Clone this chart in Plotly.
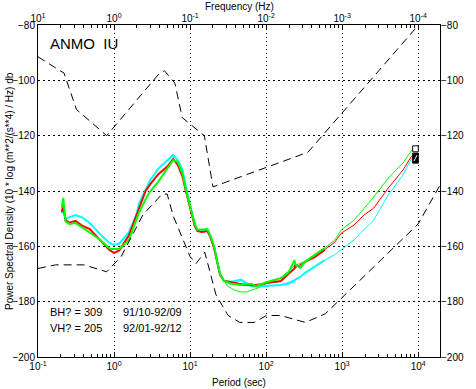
import plotly.graph_objects as go

# ---- data ----
# Peterson low / high noise models (period s, dB)
nlnm_period = [0.1, 0.17, 0.4, 0.8, 1.24, 2.4, 4.3, 5.0, 6.0, 10.0, 12.0, 15.6, 21.9, 31.6, 45.0, 70.0, 101.0, 154.0, 328.0, 600.0, 10000.0, 100000.0]
nlnm_db = [-168.0, -166.7, -166.7, -169.2, -163.7, -148.6, -141.1, -141.1, -149.0, -163.7, -166.2, -162.1, -177.5, -185.0, -187.5, -187.5, -185.0, -185.0, -187.5, -184.4, -151.9, -103.1]

nhnm_period = [0.1, 0.22, 0.32, 0.8, 3.8, 4.6, 6.3, 7.9, 15.4, 20.0, 354.8, 100000.0]
nhnm_db = [-91.5, -97.4, -110.5, -120.0, -98.0, -96.5, -101.0, -113.5, -120.0, -138.5, -126.0, -48.5]

# BH? channels (short period band)
bh_period = [0.205, 0.215, 0.23, 0.26, 0.31, 0.38, 0.48, 0.65, 0.87, 1.0, 1.17, 1.57, 2.0, 2.12, 2.6, 3.0, 3.8, 5.1, 6.0, 6.9, 8.0, 8.8, 10.2, 11.5, 12.5, 14.5, 16.9, 18.4, 20.7, 22.7, 24.8, 27.9, 35, 47, 64, 74, 100, 156, 197, 236, 243, 281, 326, 440, 590]
bh_red = [-147.5, -145.5, -150.5, -151.5, -150.8, -152.5, -153.8, -157.8, -161.3, -162.4, -161.5, -156.0, -148.5, -146.0, -140.0, -137.5, -134.0, -131.0, -128.4, -130.6, -135.0, -140.0, -147.0, -152.5, -154.5, -154.8, -154.5, -156.5, -160.6, -166.0, -170.3, -172.5, -173.0, -174.0, -174.0, -174.3, -173.3, -172.5, -170.0, -168.0, -166.7, -167.5, -165.6, -163.8, -161.3]
bh_green = [-146.0, -142.5, -151.0, -152.0, -151.5, -153.0, -155.0, -157.5, -160.8, -161.0, -161.0, -157.7, -150.0, -148.0, -143.0, -140.0, -136.7, -131.5, -128.8, -129.5, -134.0, -139.5, -146.5, -152.0, -154.0, -153.8, -153.8, -156.0, -160.0, -165.5, -170.0, -172.5, -173.5, -174.0, -173.5, -174.5, -173.0, -171.5, -169.5, -165.0, -166.5, -167.8, -165.6, -163.0, -160.6]
bh_cyan = [-148.0, -146.5, -150.0, -149.5, -148.7, -149.5, -151.6, -155.5, -158.8, -159.5, -159.0, -155.0, -148.0, -144.5, -139.5, -136.0, -132.0, -128.8, -127.0, -128.8, -132.5, -138.5, -146.0, -152.0, -154.3, -154.5, -154.0, -156.0, -160.5, -166.0, -170.0, -172.5, -172.8, -172.0, -174.5, -174.5, -174.3, -174.0, -173.5, -172.5, -172.0, -171.0, -169.6, -167.4, -165.0]

# VH? channels (long period band)
vh_red_period = [10, 11.5, 12.5, 14.5, 16.9, 18.4, 20.7, 22.7, 24.8, 27.9, 35, 47, 64, 100, 156, 236, 326, 440, 590, 800, 977, 1436, 1932, 2597, 4050, 6310, 8240]
vh_red = [-146.0, -152.5, -154.5, -154.8, -154.5, -156.5, -160.6, -166.0, -170.3, -172.5, -172.8, -173.5, -174.0, -173.3, -172.8, -168.0, -165.5, -163.8, -161.3, -158.5, -155.2, -152.3, -148.7, -146.2, -138.9, -132.4, -127.3]
vh_green_period = [10, 12.5, 16.9, 20.7, 22.7, 24.8, 27.9, 31, 40, 47, 55, 70, 85, 100, 156, 236, 326, 440, 590, 800, 977, 1436, 1932, 2597, 4050, 6310, 8240]
vh_green = [-146.0, -154.0, -153.8, -160.0, -165.5, -170.0, -172.2, -174.4, -176.0, -176.5, -176.5, -175.5, -174.7, -173.5, -171.5, -167.0, -165.4, -163.0, -160.6, -157.7, -154.0, -150.5, -146.2, -142.2, -135.3, -129.9, -125.2]
vh_cyan_period = [10, 12.5, 16.9, 20.7, 22.7, 24.8, 27.9, 35, 47, 64, 100, 156, 243, 326, 440, 590, 800, 977, 1436, 1932, 2597, 4050, 6310, 8240]
vh_cyan = [-145.5, -154.3, -154.0, -160.5, -166.0, -170.0, -172.5, -172.8, -172.5, -174.5, -174.3, -174.0, -172.0, -169.6, -167.4, -165.0, -163.0, -161.3, -157.7, -154.0, -150.5, -141.4, -134.2, -128.0]

period_ticks = [0.1, 1, 10, 100, 1000, 10000]
period_labels = ["10<sup>-1</sup>", "10<sup>0</sup>", "10<sup>1</sup>", "10<sup>2</sup>", "10<sup>3</sup>", "10<sup>4</sup>"]
freq_labels = ["10<sup>1</sup>", "10<sup>0</sup>", "10<sup>-1</sup>", "10<sup>-2</sup>", "10<sup>-3</sup>", "10<sup>-4</sup>"]
db_ticks = [-80, -100, -120, -140, -160, -180, -200]

minor_vals = [m * 10 ** k for k in range(-1, 5) for m in range(2, 10)]

RED, GREEN, CYAN = "#ff0000", "#00ff00", "#00ffff"
FONT = "Liberation Sans, Arial, sans-serif"

fig = go.Figure()
dash = "8px,5px"
fig.add_trace(go.Scatter(x=nhnm_period, y=nhnm_db, mode="lines",
                         line=dict(color="black", width=1, dash=dash), hoverinfo="skip"))
fig.add_trace(go.Scatter(x=nlnm_period, y=nlnm_db, mode="lines", xaxis="x2", yaxis="y2",
                         line=dict(color="black", width=1, dash=dash), hoverinfo="skip"))

for per, vals, col in [(vh_cyan_period, vh_cyan, CYAN), (vh_red_period, vh_red, RED), (vh_green_period, vh_green, GREEN)]:
    fig.add_trace(go.Scatter(x=per, y=vals, mode="lines", line=dict(color=col, width=1)))
for vals, col in [(bh_cyan, CYAN), (bh_red, RED), (bh_green, GREEN)]:
    fig.add_trace(go.Scatter(x=bh_period, y=vals, mode="lines", line=dict(color=col, width=2)))

xr = [-1, 4.287]
yr = [-200, -80]
tickfont = dict(family=FONT, size=10, color="black")

fig.update_layout(
    width=476, height=389,
    margin=dict(l=37, r=28, t=25, b=32),
    paper_bgcolor="white", plot_bgcolor="white",
    showlegend=False,
    font=dict(family=FONT, size=10, color="black"),
    xaxis=dict(type="log", range=xr, tickvals=period_ticks, ticktext=period_labels,
               showgrid=True, gridcolor="black", griddash="1px,3px", gridwidth=1,
               showline=True, linecolor="black", linewidth=1, mirror=True,
               ticks="inside", ticklen=5, tickcolor="black", tickfont=tickfont,
               minor=dict(tickvals=minor_vals, ticks="inside", ticklen=3, tickcolor="black", showgrid=False),
               zeroline=False),
    yaxis=dict(range=yr, tickvals=db_ticks, showgrid=True, gridcolor="black", griddash="2px,3px",
               gridwidth=1, showline=True, linecolor="black", linewidth=1, mirror=True,
               ticks="", tickfont=tickfont, zeroline=False),
    xaxis2=dict(type="log", range=xr, overlaying="x", side="top", anchor="y2",
                tickvals=period_ticks, ticktext=freq_labels, showgrid=False,
                ticks="inside", ticklen=5, tickcolor="black", tickfont=tickfont,
                minor=dict(tickvals=minor_vals, ticks="inside", ticklen=3, tickcolor="black", showgrid=False),
                showline=False, zeroline=False),
    yaxis2=dict(range=yr, overlaying="y", side="right", anchor="x2", tickvals=db_ticks,
                showgrid=False, ticks="", tickfont=tickfont, showline=False, zeroline=False),
)

ann = dict(showarrow=False, font=dict(family=FONT, size=10, color="black"))
fig.add_annotation(text="Frequency (Hz)", xref="paper", yref="paper", x=0.5, y=1, yshift=19, yanchor="middle", **ann)
fig.add_annotation(text="Period (sec)", xref="paper", yref="paper", x=0.5, y=0, yshift=-25, yanchor="middle", **ann)
fig.add_annotation(text="Power Spectral Density (10 * log (m**2/(s**4) / Hz) db", xref="paper", yref="paper",
                   x=0, xshift=-29, y=0.5, textangle=-90, xanchor="center", **ann)
fig.add_annotation(text="ANMO  IU", xref="paper", yref="paper", x=0.024, y=0.943, xanchor="left",
                   yanchor="middle", showarrow=False, font=dict(family=FONT, size=15, color="black"))
ann11 = dict(showarrow=False, font=dict(family=FONT, size=11, color="black"))
fig.add_annotation(text="BH? = 309", xref="paper", yref="paper", x=0.024, y=0.136, xanchor="left", yanchor="middle", **ann11)
fig.add_annotation(text="VH? = 205", xref="paper", yref="paper", x=0.024, y=0.087, xanchor="left", yanchor="middle", **ann11)
fig.add_annotation(text="91/10-92/09", xref="paper", yref="paper", x=0.207, y=0.136, xanchor="left", yanchor="middle", **ann11)
fig.add_annotation(text="92/01-92/12", xref="paper", yref="paper", x=0.207, y=0.087, xanchor="left", yanchor="middle", **ann11)

# small channel-key glyph near 10^4 s
fig.add_shape(type="rect", xref="paper", yref="paper", x0=0.932, x1=0.946, y0=0.618, y1=0.636,
              line=dict(color="black", width=1), fillcolor="white")
fig.add_shape(type="rect", xref="paper", yref="paper", x0=0.932, x1=0.946, y0=0.584, y1=0.614,
              line=dict(color="black", width=1), fillcolor="black")
fig.add_shape(type="line", xref="paper", yref="paper", x0=0.935, x1=0.943, y0=0.590, y1=0.608,
              line=dict(color="white", width=1))

fig.write_html("out.html", config={"displayModeBar": False},
               post_script="document.body.style.margin='0';document.body.style.overflow='hidden';")
